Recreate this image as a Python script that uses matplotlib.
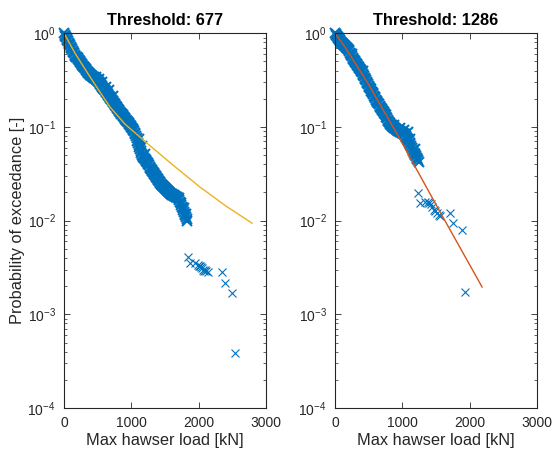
import matplotlib
matplotlib.use('Agg')
import matplotlib.pyplot as plt
from matplotlib.ticker import LogLocator, NullFormatter

plt.rcParams['font.family'] = ['Liberation Sans', 'DejaVu Sans']
plt.rcParams['mathtext.fontset'] = 'custom'
plt.rcParams['mathtext.rm'] = 'Liberation Sans'

# --- threshold 677: max hawser load [kN] vs exceedance probability
load_677 = [0, 10, 20, 30, 40, 50, 60, 70, 80, 90,
            100, 110, 120, 130, 140, 150, 160, 170, 180, 190,
            200, 210, 220, 230, 240, 250, 260, 270, 280, 290,
            300, 310, 320, 330, 340, 350, 360, 370, 380, 390,
            400, 410, 420, 430, 440, 450, 460, 470, 480, 490,
            500, 510, 520, 530, 540, 550, 560, 570, 580, 590,
            600, 610, 620, 630, 640, 650, 660, 670, 680, 690,
            700, 710, 720, 730, 740, 750, 760, 770, 780, 790,
            800, 810, 820, 830, 840, 850, 860, 870, 880, 890,
            900, 910, 920, 930, 940, 950, 960, 970, 980, 990,
            1000, 1010, 1020, 1030, 1040, 1050, 1060, 1070, 1080, 1090,
            1100, 1110, 1120, 1130, 1140, 1150, 1160, 1170, 1180, 1190,
            1200, 1210, 1220, 1230, 1240, 1250, 1260, 1270, 1280, 1290,
            1300, 1310, 1320, 1330, 1340, 1350, 1360, 1370, 1380, 1390,
            1400, 1410, 1420, 1430, 1440, 1450, 1460, 1470, 1480, 1490,
            1500, 1510, 1520, 1530, 1540, 1550, 1560, 1570, 1580, 1590,
            1600, 1610, 1620, 1630, 1640, 1650, 1660, 1670, 1680, 1690,
            1700, 1710, 1720, 1730, 1740, 1750, 1760, 1770, 1780, 1790,
            1800, 1810, 1820, 1830,
            470, 520, 570, 620, 670, 720, 1120, 1160, 1200, 1780, 1810]
prob_677 = [1.000, 0.968, 0.935, 0.906, 0.875, 0.847, 0.820, 0.793, 0.767, 0.743,
            0.718, 0.695, 0.671, 0.650, 0.630, 0.608, 0.589, 0.575, 0.564, 0.551,
            0.538, 0.526, 0.515, 0.504, 0.492, 0.481, 0.471, 0.460, 0.450, 0.440,
            0.431, 0.421, 0.411, 0.402, 0.394, 0.385, 0.378, 0.373, 0.367, 0.361,
            0.356, 0.351, 0.346, 0.342, 0.337, 0.333, 0.329, 0.325, 0.321, 0.317,
            0.313, 0.306, 0.300, 0.293, 0.287, 0.281, 0.275, 0.269, 0.263, 0.257,
            0.251, 0.245, 0.240, 0.234, 0.229, 0.224, 0.218, 0.213, 0.208, 0.203,
            0.198, 0.193, 0.188, 0.184, 0.179, 0.175, 0.171, 0.167, 0.163, 0.159,
            0.155, 0.152, 0.148, 0.145, 0.142, 0.139, 0.136, 0.133, 0.130, 0.128,
            0.125, 0.122, 0.120, 0.117, 0.115, 0.112, 0.110, 0.107, 0.105, 0.102,
            0.100, 0.0977, 0.0955, 0.0933, 0.0912, 0.0871, 0.0832, 0.0794, 0.0753, 0.0713,
            0.0676, 0.0641, 0.0607, 0.0575, 0.0550, 0.0525, 0.0501, 0.0489, 0.0476, 0.0465,
            0.0453, 0.0441, 0.0430, 0.0419, 0.0408, 0.0398, 0.0388, 0.0378, 0.0369, 0.0360,
            0.0350, 0.0341, 0.0333, 0.0324, 0.0316, 0.0308, 0.0301, 0.0293, 0.0286, 0.0278,
            0.0271, 0.0264, 0.0258, 0.0251, 0.0247, 0.0243, 0.0239, 0.0235, 0.0231, 0.0227,
            0.0223, 0.0219, 0.0216, 0.0212, 0.0208, 0.0205, 0.0202, 0.0198, 0.0195, 0.0193,
            0.0191, 0.0189, 0.0188, 0.0186, 0.0184, 0.0182, 0.0180, 0.0179, 0.0177, 0.0175,
            0.0174, 0.0166, 0.0160, 0.0153, 0.0147, 0.0140, 0.0135, 0.0129, 0.0124, 0.0118,
            0.0114, 0.0109, 0.0104, 0.0100,
            0.345, 0.325, 0.300, 0.270, 0.245, 0.215, 0.075, 0.062, 0.052, 0.0135, 0.0118]
tail_load_677 = [1842, 1871, 1950, 1990, 2000, 2020, 2030, 2050, 2065, 2080,
                 2090, 2110, 2139, 2346, 2391, 2495, 2540]
tail_prob_677 = [0.0041, 0.0035, 0.0035, 0.0034, 0.0033, 0.0033, 0.0032, 0.0031, 0.0030, 0.0029,
                 0.0030, 0.0029, 0.0028, 0.0028, 0.00215, 0.0017, 0.00039]
fit_load_677 = [0, 170, 356, 520, 683, 906, 1233, 1619, 2020, 2406, 2792]
fit_prob_677 = [1.0, 0.60, 0.37, 0.244, 0.163, 0.107, 0.0671, 0.0391, 0.0228, 0.0143, 0.0094]

# --- threshold 1286
load_1286 = [0, 10, 20, 30, 40, 50, 60, 70, 80, 90,
             100, 110, 120, 130, 140, 150, 160, 170, 180, 190,
             200, 210, 220, 230, 240, 250, 260, 270, 280, 290,
             300, 310, 320, 330, 340, 350, 360, 370, 380, 390,
             400, 410, 420, 430, 440, 450, 460, 470, 480, 490,
             500, 510, 520, 530, 540, 550, 560, 570, 580, 590,
             600, 610, 620, 630, 640, 650, 660, 670, 680, 690,
             700, 710, 720, 730, 740, 750, 760, 770, 780, 790,
             800, 810, 820, 830, 840, 850, 860, 870, 880, 890,
             900, 910, 920, 930, 940, 950, 960, 970, 980, 990,
             1000, 1010, 1020, 1030, 1040, 1050, 1060, 1070, 1080, 1090,
             1100, 1110, 1120, 1130, 1140, 1150, 1160, 1170, 1180, 1190,
             1200, 1210, 1220, 1230, 1240,
             250, 420, 880, 960, 1020, 1080, 1120, 1180]
prob_1286 = [1.000, 0.977, 0.955, 0.933, 0.912, 0.891, 0.871, 0.851, 0.832, 0.813,
             0.794, 0.781, 0.767, 0.754, 0.741, 0.728, 0.713, 0.700, 0.687, 0.673,
             0.661, 0.641, 0.621, 0.603, 0.585, 0.566, 0.550, 0.536, 0.522, 0.509,
             0.498, 0.485, 0.473, 0.461, 0.450, 0.439, 0.429, 0.418, 0.407, 0.394,
             0.382, 0.369, 0.357, 0.346, 0.335, 0.324, 0.314, 0.303, 0.294, 0.284,
             0.275, 0.267, 0.259, 0.251, 0.244, 0.236, 0.229, 0.222, 0.215, 0.209,
             0.203, 0.196, 0.191, 0.185, 0.179, 0.174, 0.169, 0.165, 0.161, 0.157,
             0.153, 0.149, 0.145, 0.142, 0.138, 0.133, 0.129, 0.124, 0.120, 0.116,
             0.112, 0.110, 0.108, 0.106, 0.104, 0.102, 0.100, 0.0989, 0.0977, 0.0966,
             0.0955, 0.0944, 0.0933, 0.0925, 0.0916, 0.0906, 0.0897, 0.0889, 0.0881, 0.0873,
             0.0865, 0.0855, 0.0847, 0.0839, 0.0832, 0.0809, 0.0789, 0.0767, 0.0746, 0.0728,
             0.0708, 0.0679, 0.0650, 0.0624, 0.0598, 0.0573, 0.0550, 0.0532, 0.0515, 0.0500,
             0.0484, 0.0469, 0.0454, 0.0441, 0.0427,
             0.600, 0.400, 0.105, 0.098, 0.093, 0.088, 0.075, 0.058]
tail_load_1286 = [1233, 1262, 1330, 1381, 1400, 1420, 1440, 1470, 1480, 1515,
                  1540, 1560, 1708, 1753, 1886, 1931]
tail_prob_1286 = [0.0196, 0.0154, 0.0160, 0.0158, 0.0155, 0.0150, 0.0139, 0.0130, 0.0128, 0.0120,
                  0.0115, 0.0112, 0.0120, 0.0094, 0.0079, 0.00173]
fit_load_1286 = [0, 149, 490, 921, 1559, 2183]
fit_prob_1286 = [1.0, 0.71, 0.29, 0.084, 0.0124, 0.00196]

blue = '#0072BD'
dark = '#262626'

fig = plt.figure(figsize=(5.52, 4.55), dpi=100)
ax1 = fig.add_axes([0.116, 0.103, 0.366, 0.824])
ax2 = fig.add_axes([0.607, 0.103, 0.366, 0.824])

panels = [(ax1, load_677, prob_677, tail_load_677, tail_prob_677,
           fit_load_677, fit_prob_677, '#EDB120', 'Threshold: 677'),
          (ax2, load_1286, prob_1286, tail_load_1286, tail_prob_1286,
           fit_load_1286, fit_prob_1286, '#D95319', 'Threshold: 1286')]

for ax, x, p, tx, tp, fx, fp, col, title in panels:
    # dense part drawn with heavier strokes so the overlapping crosses merge into a band
    ax.plot(x, p, 'x', color=blue, ms=7, mew=1.5, clip_on=False)
    ax.plot(tx, tp, 'x', color=blue, ms=6, mew=0.8, clip_on=False)
    ax.plot(fx, fp, '-', color=col, lw=1.0)
    ax.set_yscale('log')
    ax.set_xlim(0, 3000)
    ax.set_ylim(1e-4, 1)
    ax.set_xticks([0, 1000, 2000, 3000])
    ax.yaxis.set_major_locator(LogLocator(base=10, numticks=10))
    ax.yaxis.set_minor_locator(LogLocator(base=10, subs=range(2, 10), numticks=10))
    ax.yaxis.set_minor_formatter(NullFormatter())
    ax.tick_params(which='both', direction='in', top=True, right=True,
                   colors=dark, labelsize=10)
    ax.tick_params(which='major', length=4, width=0.6, pad=6)
    ax.tick_params(which='minor', length=2, width=0.5)
    for s in ax.spines.values():
        s.set_color(dark)
        s.set_linewidth(0.8)
    ax.set_title(title, fontsize=11.8, fontweight='bold', pad=6)
    ax.set_xlabel('Max hawser load [kN]', fontsize=11.8, color=dark, labelpad=2)

ax1.set_ylabel('Probability of exceedance [-]', fontsize=11.8, color=dark, labelpad=2)

fig.savefig('out.png', dpi=100)
